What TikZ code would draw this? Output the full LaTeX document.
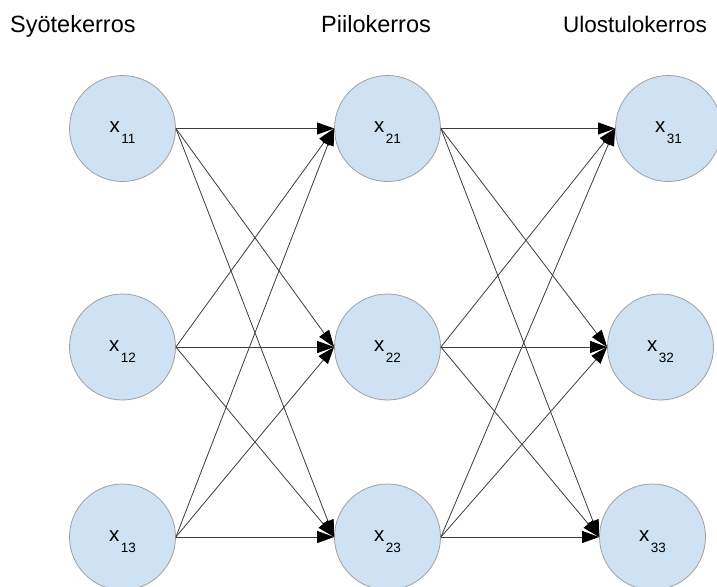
\documentclass[tikz,border=0pt]{standalone}
\usepackage{fontspec}
\setmainfont{Liberation Sans}
\usetikzlibrary{arrows.meta}
\definecolor{nodefill}{HTML}{CFE2F3}
\definecolor{nodeedge}{HTML}{A0A0A0}
\definecolor{linkcol}{HTML}{3C3C3C}
% neuron label: x with a lowered index
\newcommand\neuronlabel[1]{{\fontsize{20.5}{20.5}\selectfont x}\hspace{1.5pt}\raisebox{-10.5pt}{\fontsize{13.5}{13.5}\selectfont #1}}
\begin{document}
\begin{tikzpicture}[x=1pt,y=-1pt,
  neuron/.style={circle, draw=nodeedge, fill=nodefill, line width=0.8pt,
                 minimum size=106pt, inner sep=0pt},
  lab/.style={anchor=base, inner sep=0pt, text=black},
  title/.style={anchor=base west, inner sep=0pt, text=black},
  link/.style={draw=linkcol, line width=0.8pt,
               -{Triangle[length=17pt,width=12pt,color=black]}}]
\useasboundingbox (0,0) rectangle (717,586);

% layer titles
\node[title] (t1) at (10,32.5) {\fontsize{23.5}{23.5}\selectfont Syötekerros};
\node[title] (t2) at (321,32.5) {\fontsize{23.5}{23.5}\selectfont Piilokerros};
\node[title] (t3) at (563,32.5) {\fontsize{22.5}{22.5}\selectfont Ulostulokerros};

% input layer
\node[neuron] (n11) at (122.5,128.5) {};
\node[neuron] (n12) at (122.5,347) {};
\node[neuron] (n13) at (122.5,537) {};
% hidden layer
\node[neuron] (n21) at (387.5,128.5) {};
\node[neuron] (n22) at (387.5,347) {};
\node[neuron] (n23) at (387.5,537) {};
% output layer
\node[neuron] (n31) at (668.5,128.5) {};
\node[neuron] (n32) at (660.5,347) {};
\node[neuron] (n33) at (652.5,537) {};

% labels
\node[lab] (l11) at (122.5,132.5) {\neuronlabel{11}};
\node[lab] (l12) at (122.5,351.5) {\neuronlabel{12}};
\node[lab] (l13) at (122.5,541.5) {\neuronlabel{13}};
\node[lab] (l21) at (387.5,132.5) {\neuronlabel{21}};
\node[lab] (l22) at (387.5,351.5) {\neuronlabel{22}};
\node[lab] (l23) at (387.5,541.5) {\neuronlabel{23}};
\node[lab] (l31) at (668.5,132.5) {\neuronlabel{31}};
\node[lab] (l32) at (660.5,351.5) {\neuronlabel{32}};
\node[lab] (l33) at (652.5,541.5) {\neuronlabel{33}};

% fully connected links
\foreach \i in {1,2,3}{
  \foreach \j in {1,2,3}{
    \draw[link] (n1\i.east) -- (n2\j.west);
    \draw[link] (n2\i.east) -- (n3\j.west);
  }
}
\end{tikzpicture}
\end{document}
